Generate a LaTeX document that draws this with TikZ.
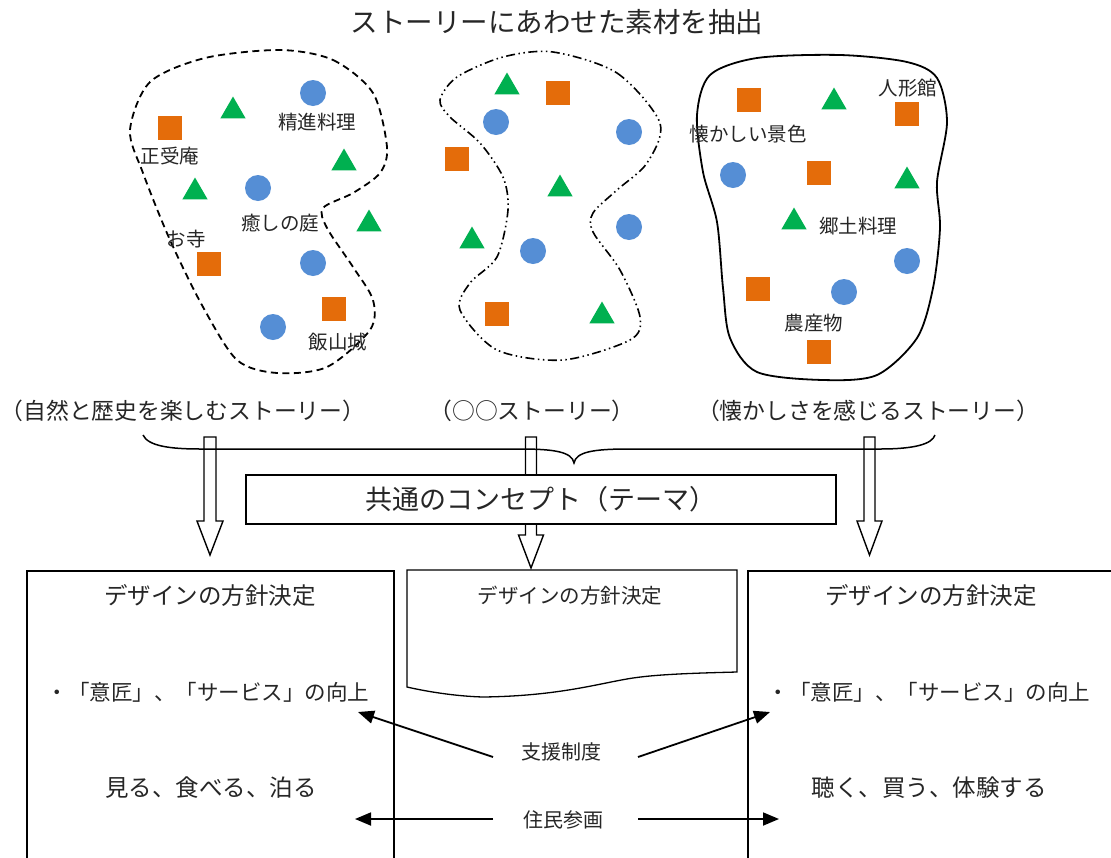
\documentclass[tikz,border=0pt]{standalone}
\usepackage{fontspec}
\setmainfont{Noto Sans CJK JP}
\usetikzlibrary{shapes.geometric,arrows.meta}
\definecolor{sqor}{HTML}{E46C0A}
\definecolor{trgr}{HTML}{00B050}
\definecolor{ciblu}{HTML}{558ED5}
\definecolor{txt}{HTML}{262626}
\tikzset{
  sq/.style={rectangle,fill=sqor,minimum size=24,inner sep=0},
  tri/.style={regular polygon,regular polygon sides=3,fill=trgr,minimum size=29,inner sep=0},
  ci/.style={circle,fill=ciblu,minimum size=26,inner sep=0},
  lbl/.style={font=\fontsize{19.5}{23}\selectfont,inner sep=0,text=txt},
  story/.style={font=\fontsize{22.8}{26}\selectfont,inner sep=0,text=txt},
  hol/.style={draw=black,fill=white,line width=1.4},
  bx/.style={draw=black,line width=2.2,inner sep=0},
  con/.style={draw=black,line width=1.8,-{Triangle[length=16,width=13]}},
  t23/.style={font=\fontsize{23.5}{28}\selectfont,inner sep=0,text=txt},
  t20/.style={font=\fontsize{20}{24}\selectfont,inner sep=0,text=txt},
  t21/.style={font=\fontsize{21.5}{25}\selectfont,inner sep=0,text=txt},
}
\newcommand\harrow[6]{%
  \draw[hol] ({#1-#5},#2) -- ({#1+#5},#2) -- ({#1+#5},#3) -- ({#1+#6},#3) -- (#1,#4)
     -- ({#1-#6},#3) -- ({#1-#5},#3) -- cycle;}
\begin{document}
\begin{tikzpicture}[x=1pt,y=-1pt]
\useasboundingbox (0,0) rectangle (1111,857);
\clip (0,0) rectangle (1111,857);
\fill[white] (0,0) rectangle (1111,857);

% title
\node[font=\fontsize{27.5}{32}\selectfont,inner sep=0,text=txt] (title) at (557,22) {ストーリーにあわせた素材を抽出};

% blob 1 (dashed)
\draw[line width=1.8,dash pattern=on 7 off 4.5] plot[smooth cycle] coordinates {
 (280,50) (333,60) (373,93) (387,147) (380,173) (353,193) (323,208) (327,228)
 (353,267) (373,300) (370,330) (327,367) (277,373) (237,360) (203,307)
 (170,240) (143,173) (130,130) (150,82) (205,58)};
\node[sq] (a1) at (170,128) {};
\node[tri] (a2) at (233,111) {};
\node[ci] (a3) at (313,93) {};
\node[lbl] (a4) at (317,122) {精進料理};
\node[lbl] (a5) at (170,156) {正受庵};
\node[tri] (a6) at (344,163) {};
\node[tri] (a7) at (195,192) {};
\node[ci] (a8) at (258,188) {};
\node[lbl] (a9) at (280,223) {癒しの庭};
\node[tri] (a10) at (369,224) {};
\node[lbl] (a11) at (186,239) {お寺};
\node[sq] (a12) at (209,264) {};
\node[ci] (a13) at (313,263) {};
\node[sq] (a14) at (334,309) {};
\node[ci] (a15) at (273,327) {};
\node[lbl] (a16) at (338,342) {飯山城};

% blob 2 (dash dot dot)
\draw[line width=1.6,dash pattern=on 9 off 3.5 on 1.5 off 3.5 on 1.5 off 3.5] plot[smooth cycle] coordinates {
 (553,52) (617,73) (660,123) (647,163) (617,190) (593,213) (593,232) (620,270)
 (640,317) (630,340) (563,360) (497,350) (460,310) (470,283) (497,257)
 (508,210) (503,177) (480,143) (450,117) (440,100) (457,77) (503,57)};
\node[tri] (b1) at (507,87) {};
\node[sq] (b2) at (558,93) {};
\node[ci] (b3) at (496,122) {};
\node[ci] (b4) at (629,132) {};
\node[sq] (b5) at (457,159) {};
\node[tri] (b6) at (560,189) {};
\node[ci] (b7) at (629,227) {};
\node[tri] (b8) at (472,241) {};
\node[ci] (b9) at (533,251) {};
\node[sq] (b10) at (497,314) {};
\node[tri] (b11) at (602,316) {};

% blob 3 (solid)
\draw[line width=1.8] plot[smooth cycle] coordinates {
 (840,55) (907,62) (937,78) (947,122) (937,182) (940,228) (933,288) (917,338)
 (877,375) (823,380) (757,372) (730,338) (723,288) (717,222) (703,172)
 (697,115) (710,75) (757,58)};
\node[sq] (c1) at (749,100) {};
\node[tri] (c2) at (834,102) {};
\node[lbl] (c3) at (908,88) {人形館};
\node[sq] (c4) at (907,114) {};
\node[lbl] (c5) at (748,134) {懐かしい景色};
\node[ci] (c6) at (733,175) {};
\node[sq] (c7) at (819,173) {};
\node[tri] (c8) at (907,181) {};
\node[tri] (c9) at (794,222) {};
\node[lbl] (c10) at (858,226) {郷土料理};
\node[ci] (c11) at (907,261) {};
\node[sq] (c12) at (758,289) {};
\node[ci] (c13) at (844,292) {};
\node[lbl] (c14) at (814,323) {農産物};
\node[sq] (c15) at (819,352) {};

% story labels
\node[story] (s1) at (183,411) {（自然と歴史を楽しむストーリー）};
\node[story] (s2) at (532,411) {（○○ストーリー）};
\node[story] (s3) at (868,411) {（懐かしさを感じるストーリー）};

% hollow arrows
\harrow{210}{437}{521}{555}{6}{13}
\harrow{531}{437}{535}{568}{5.5}{12.5}
\harrow{869.5}{437}{521}{555}{5.5}{12.5}

% brace
\draw[line width=1.5] (143,435) .. controls (148,446) and (170,449) .. (200,449)
  -- (520,449) .. controls (555,449) and (572,452) .. (574,463)
  .. controls (576,452) and (593,449) .. (628,449) -- (880,449)
  .. controls (915,449) and (932,444) .. (935,435);

% concept box
\node[draw=black,line width=1.5,fill=white,minimum width=590,minimum height=49,inner sep=0,
  anchor=north west,text=txt] (cb) at (245,474) {};
\node[font=\fontsize{27}{30}\selectfont,inner sep=0,text=txt] (cbt) at (cb.center) {共通のコンセプト（テーマ）};

% bottom boxes
\node[bx,minimum width=367,minimum height=300,anchor=north west] (lb) at (26,570) {};
\node[bx,minimum width=380,minimum height=300,anchor=north west] (rb) at (747,570) {};
\draw[line width=1.3] (407,570) -- (737,570) -- (737,672)
  .. controls (700,673) and (660,674) .. (633,678)
  .. controls (600,683) and (560,696) .. (483,697)
  .. controls (450,696) and (420,690) .. (407,687) -- cycle;

\node[t23] (l1) at (210,595) {デザインの方針決定};
\node[t21] (l2) at (208,692) {・「意匠」、「サービス」の向上};
\node[t23] (l3) at (211,788) {見る、食べる、泊る};
\node[font=\fontsize{20.5}{24}\selectfont,inner sep=0,text=txt] (m1) at (570,596) {デザインの方針決定};
\node[t23] (r1) at (931,595) {デザインの方針決定};
\node[t21] (r2) at (929,692) {・「意匠」、「サービス」の向上};
\node[t23] (r3) at (929,788) {聴く、買う、体験する};

% connectors
\node[t20] (sien) at (561,752) {支援制度};
\node[t20] (jumin) at (563,820) {住民参画};
\coordinate (sa) at (493,757);
\coordinate (sb) at (638,757);
\coordinate (ta) at (358,712);
\coordinate (tb) at (770,712);
\coordinate (ja) at (493,819);
\coordinate (jb) at (638,819);
\coordinate (ua) at (355,819);
\coordinate (ub) at (779,819);
\draw[con] (sa) -- (ta);
\draw[con] (sb) -- (tb);
\draw[con] (ja) -- (ua);
\draw[con] (jb) -- (ub);
\end{tikzpicture}
\end{document}
